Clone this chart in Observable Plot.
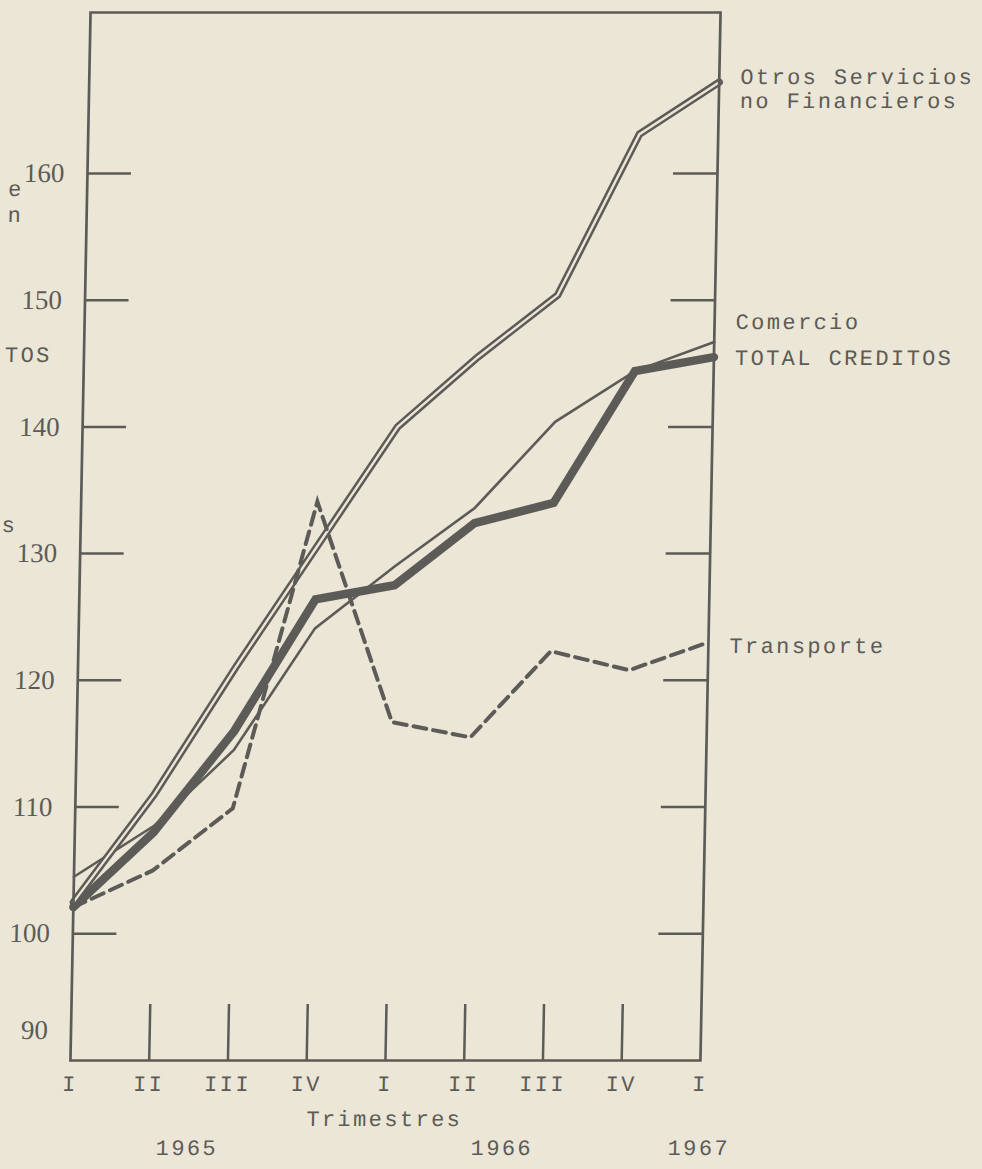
<!DOCTYPE html>
<html>
<head>
<meta charset="utf-8">
<script src="https://cdn.jsdelivr.net/npm/d3@7"></script>
<script src="https://cdn.jsdelivr.net/npm/@observablehq/plot@0.6"></script>
<style>
  html, body { margin: 0; padding: 0; background: #ebe6d6; }
  #chart { width: 982px; height: 1169px; overflow: hidden; }
  #chart svg { display: block; transform: skewX(-1.1deg); transform-origin: 0 536px; }
  #chart g.mono text { letter-spacing: 2.4px; }
</style>
</head>
<body>
<div id="chart"></div>
<script>
// ---- data ----
const quarters = [0, 1, 2, 3, 4, 5, 6, 7, 8];
const quarterLabels = ["I", "II", "III", "IV", "I", "II", "III", "IV", "I"];
const quarterYears = [1965, 1965, 1965, 1965, 1966, 1966, 1966, 1966, 1967];
const otrosServicios = [102.5, 111, 121, 130.5, 140, 145.5, 150.4, 163.1, 167.2];
const comercio = [104.5, 108.5, 114.5, 124.1, 129, 133.6, 140.4, 144.4, 146.7];
const totalCreditos = [102.1, 108, 116, 126.4, 127.5, 132.4, 134, 144.4, 145.5];
const transporte = [102.1, 105, 109.9, 134.1, 116.7, 115.5, 122.3, 120.8, 123];
const yTicks = [100, 110, 120, 130, 140, 150, 160];
const yBottom = 90;
const yTop = 172.7;
const leftFragments = [
  {text: "e", y: 158.8},
  {text: "n", y: 156.7},
  {text: "TOS", y: 145.7},
  {text: "s", y: 132.3}
];

// ---- styling ----
const ink = "#5c5b57";
const paper = "#ebe6d6";
const mono = "'Liberation Mono', 'DejaVu Sans Mono', monospace";
const serif = "'Liberation Serif', 'DejaVu Serif', serif";
const monoSize = 22;

const W = 982, H = 1169;
const mL = 80, mR = 272, mT = 12, mB = 109;
const plotW = W - mL - mR, plotH = H - mT - mB;

const yearCenters = Array.from(
  d3.rollup(quarters, v => d3.mean(v), i => quarterYears[i]),
  ([year, x]) => ({year: String(year), x})
);

const seriesLine = (values, opts) =>
  Plot.line(quarters, {x: i => i, y: i => values[i], curve: "linear", strokeLinejoin: "miter", strokeMiterlimit: 6, ...opts});

const monoText = (data, opts) =>
  Plot.text(data, {fontFamily: mono, fontSize: monoSize, fill: ink, className: "mono", ...opts});

const chart = Plot.plot({
  width: W,
  height: H,
  marginLeft: mL,
  marginRight: mR,
  marginTop: mT,
  marginBottom: mB,
  style: {background: "transparent", color: ink, overflow: "visible"},
  x: {domain: [0, 8], axis: null},
  y: {domain: [yBottom, yTop], axis: null},
  marks: [
    // inner ticks
    Plot.tickY(yTicks, {y: d => d, insetRight: plotW - 44, stroke: ink, strokeWidth: 2.5}),
    Plot.tickY(yTicks, {y: d => d, insetLeft: plotW - 44, stroke: ink, strokeWidth: 2.5}),
    Plot.tickX(quarters.slice(1, 8), {x: d => d, insetTop: plotH - 56, stroke: ink, strokeWidth: 2.5}),
    // series
    seriesLine(comercio, {stroke: ink, strokeWidth: 2.6}),
    seriesLine(totalCreditos, {stroke: ink, strokeWidth: 8.5}),
    seriesLine(otrosServicios, {stroke: ink, strokeWidth: 7.5}),
    seriesLine(otrosServicios, {stroke: paper, strokeWidth: 2.4}),
    seriesLine(transporte, {stroke: ink, strokeWidth: 4, strokeDasharray: "13 7"}),
    // frame
    Plot.frame({stroke: ink, strokeWidth: 2.7}),
    // y tick labels
    Plot.text(yTicks, {y: d => d, frameAnchor: "left", dx: -23, textAnchor: "end", fontFamily: serif, fontSize: 27, fill: ink}),
    Plot.text([yBottom], {y: d => d, frameAnchor: "left", dx: -23, dy: -30, textAnchor: "end", fontFamily: serif, fontSize: 27, fill: ink}),
    // left cut-off fragments
    monoText(leftFragments, {y: "y", text: "text", frameAnchor: "left", dx: -mL + 1, textAnchor: "start"}),
    // x labels
    monoText(quarters, {x: i => i, text: i => quarterLabels[i], frameAnchor: "bottom", dy: 30}),
    monoText(["Trimestres"], {x: d3.mean(quarters), text: d => d, frameAnchor: "bottom", dy: 65}),
    monoText(yearCenters, {x: "x", text: "year", frameAnchor: "bottom", dy: 94}),
    // series labels
    monoText([8], {x: d => d, y: otrosServicios[8], text: () => "Otros Servicios\nno Financieros", dx: 21, dy: 6, textAnchor: "start", lineHeight: 1.12}),
    monoText([8], {x: d => d, y: comercio[8], text: () => "Comercio", dx: 21, dy: -20, textAnchor: "start"}),
    monoText([8], {x: d => d, y: totalCreditos[8], text: () => "TOTAL CREDITOS", dx: 21, dy: 1, textAnchor: "start"}),
    monoText([8], {x: d => d, y: transporte[8], text: () => "Transporte", dx: 21, dy: 4, textAnchor: "start"})
  ]
});
document.getElementById("chart").appendChild(chart);
</script>
</body>
</html>
